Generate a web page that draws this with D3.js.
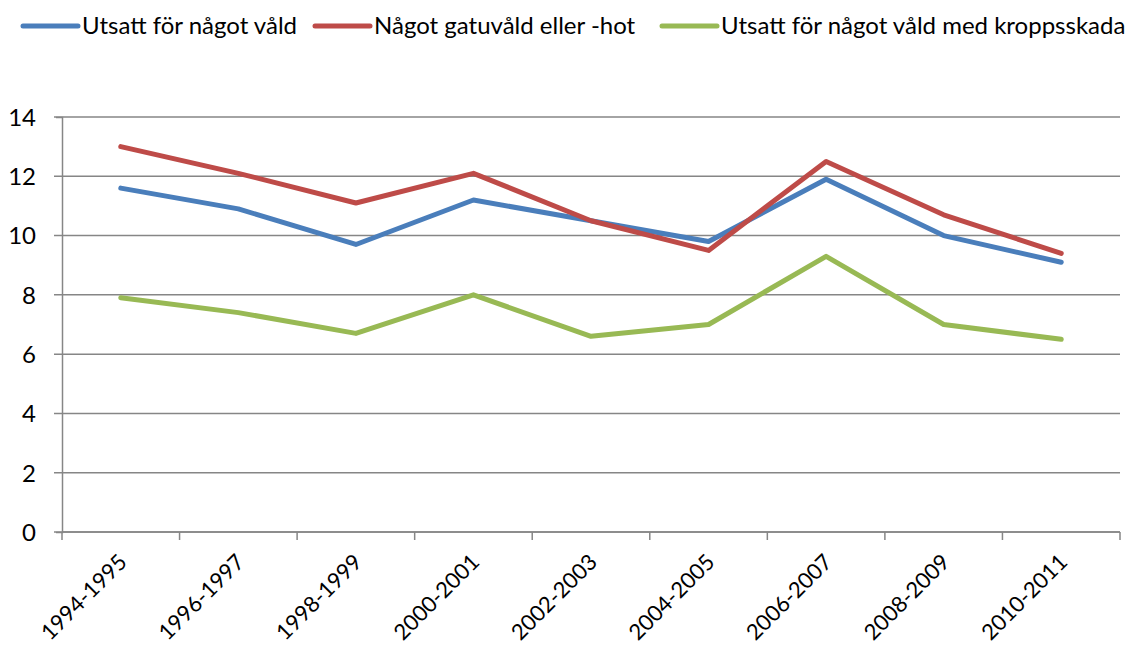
<!DOCTYPE html>
<html lang="sv">
<head>
<meta charset="UTF-8">
<title>Utsatt för våld</title>
<script src="https://d3js.org/d3.v7.min.js"></script>
<style>
  body { margin: 0; background: #fff; }
  text { font-family: Lato, "Open Sans", sans-serif; fill: #000; }
</style>
</head>
<body>
<script>
var categories = ["1994-1995", "1996-1997", "1998-1999", "2000-2001", "2002-2003",
                  "2004-2005", "2006-2007", "2008-2009", "2010-2011"];
var seriesNames = ["Utsatt för något våld", "Något gatuvåld eller -hot", "Utsatt för något våld med kroppsskada"];
var utsatt = [11.6, 10.9, 9.7, 11.2, 10.5, 9.8, 11.9, 10.0, 9.1];
var gatuvald = [13.0, 12.1, 11.1, 12.1, 10.5, 9.5, 12.5, 10.7, 9.4];
var kroppsskada = [7.9, 7.4, 6.7, 8.0, 6.6, 7.0, 9.3, 7.0, 6.5];
var yTicks = [0, 2, 4, 6, 8, 10, 12, 14];
var colors = ["#4a7ebb", "#be4b48", "#98b954"];

var width = 1141, height = 655;
var margin = { top: 117, right: 21, bottom: 123, left: 62 };

var svg = d3.select("body").append("svg")
    .attr("width", width)
    .attr("height", height);

var x = d3.scaleBand()
    .domain(categories)
    .range([margin.left, width - margin.right]);

var y = d3.scaleLinear()
    .domain([0, 14])
    .range([height - margin.bottom, margin.top]);

// gridlines (extend left past the axis as tick marks)
svg.append("g")
    .selectAll("line")
    .data(yTicks)
    .enter()
    .append("line")
    .attr("x1", margin.left - 8)
    .attr("x2", width - margin.right)
    .attr("y1", d => y(d))
    .attr("y2", d => y(d))
    .attr("stroke", "#868686")
    .attr("stroke-width", 1.5);

// y axis
var yAxis = d3.axisLeft(y).tickValues(yTicks).tickSize(6).tickPadding(20);
var gy = svg.append("g")
    .attr("transform", "translate(" + margin.left + ",0)")
    .call(yAxis);
gy.select(".domain").attr("stroke", "#868686").attr("stroke-width", 1.5);
gy.selectAll(".tick line").remove();
gy.selectAll("text").style("font-size", "24px").attr("dy", "0.35em");

// x axis: ticks on category boundaries
var boundaries = categories.map(c => x(c)).concat([x.range()[1]]);
var gx = svg.append("g");
gx.append("line")
    .attr("x1", margin.left).attr("x2", width - margin.right)
    .attr("y1", y(0)).attr("y2", y(0))
    .attr("stroke", "#868686").attr("stroke-width", 1.5);
gx.selectAll("line.tk")
    .data(boundaries)
    .enter()
    .append("line")
    .attr("class", "tk")
    .attr("x1", d => d).attr("x2", d => d)
    .attr("y1", y(0)).attr("y2", y(0) + 8)
    .attr("stroke", "#868686").attr("stroke-width", 1.5);
gx.selectAll("text")
    .data(categories)
    .enter()
    .append("text")
    .attr("transform", d => "translate(" + (x(d) + x.bandwidth() / 2 + 2) + "," + (y(0) + 26) + ") rotate(-45)")
    .attr("text-anchor", "end")
    .attr("dy", "0.35em")
    .style("font-size", "22px")
    .text(d => d);

// lines
var allSeries = [utsatt, gatuvald, kroppsskada];
var line = d3.line()
    .x((d, i) => x(categories[i]) + x.bandwidth() / 2)
    .y(d => y(d));

svg.append("g")
    .selectAll("path")
    .data(allSeries)
    .enter()
    .append("path")
    .attr("d", d => line(d))
    .attr("fill", "none")
    .attr("stroke", (d, i) => colors[i])
    .attr("stroke-width", 5)
    .attr("stroke-linecap", "round")
    .attr("stroke-linejoin", "round");

// legend
var legendX = [23, 315, 662];
var legend = svg.append("g")
    .selectAll("g")
    .data(seriesNames)
    .enter()
    .append("g")
    .attr("transform", (d, i) => "translate(" + legendX[i] + ",26)");
legend.append("line")
    .attr("x1", 0).attr("x2", 55)
    .attr("stroke", (d, i) => colors[i])
    .attr("stroke-width", 5)
    .attr("stroke-linecap", "round");
legend.append("text")
    .attr("x", 59)
    .attr("dy", "0.35em")
    .style("font-size", "24px")
    .text(d => d);
</script>
</body>
</html>
